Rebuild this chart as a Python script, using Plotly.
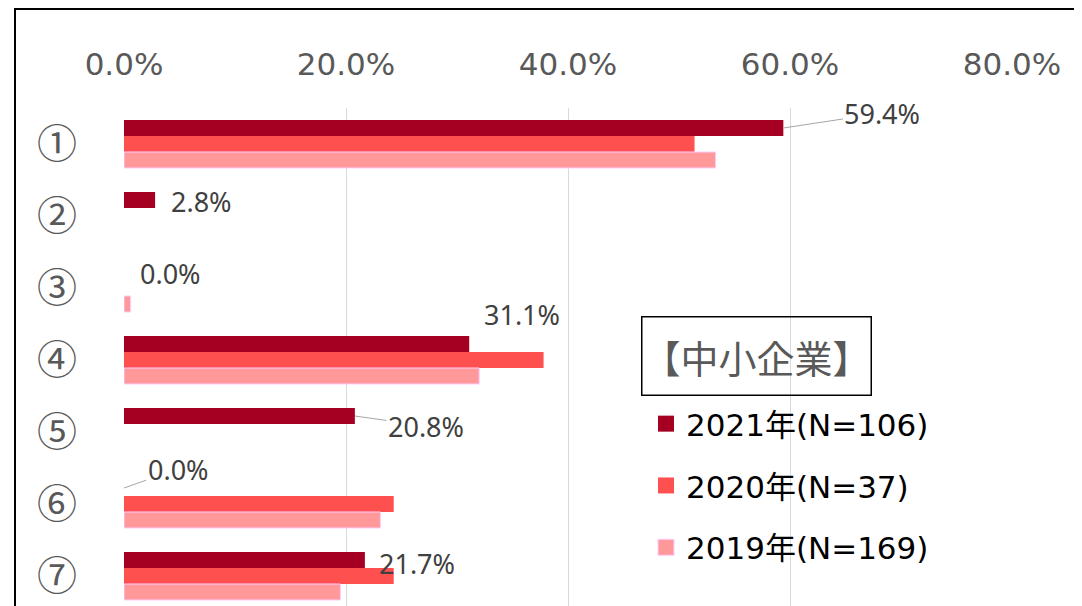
import plotly.graph_objects as go

categories = ["①", "②", "③", "④", "⑤", "⑥", "⑦"]
series_names = ["2021年(N=106)", "2020年(N=37)", "2019年(N=169)"]
values_2021 = [59.4, 2.8, 0.0, 31.1, 20.8, 0.0, 21.7]
values_2020 = [51.4, None, None, 37.8, None, 24.3, 24.3]
values_2019 = [53.3, None, 0.6, 32.0, None, 23.1, 19.5]
tick_values = [0, 20, 40, 60, 80]
tick_labels = ["0.0%", "20.0%", "40.0%", "60.0%", "80.0%"]
legend_title = "【中小企業】"

colors = ["#A50021", "#FF5050", "#FF9999"]
borders = ["#A50021", "#FF5050", "#FFCCFF"]

# label offsets (pixels, text centre relative to bar end) and whether a leader line is drawn
label_style = [
    (99, -15, True),
    (46, 1, False),
    (46, 1, False),
    (53, -30, False),
    (71, 10, True),
    (54, -19, True),
    (52, 3, False),
]

# the page body has an 8px margin; figure is sized/positioned to compensate
OFF = 8
W, H = 1082 - OFF, 606 - OFF
PL, PR, PT, PB = 124 - OFF, 1012 - OFF, 108 - OFF, 606 - OFF
pw, ph = PR - PL, PB - PT
def px(xp):
    return (xp - OFF - PL) / pw
def py(yp):
    return (PB - (yp - OFF)) / ph

ypos = list(range(len(categories)))
fig = go.Figure()
all_vals = [values_2021, values_2020, values_2019]
for i, (name, vals) in enumerate(zip(series_names, all_vals)):
    fig.add_trace(go.Bar(
        y=ypos, x=vals, orientation="h", name=name,
        marker=dict(color=colors[i], line=dict(color=borders[i], width=1 if i == 2 else 0)),
        showlegend=False, hoverinfo="x",
    ))
for i, name in enumerate(series_names):
    fig.add_trace(go.Scatter(
        x=[None], y=[None], mode="markers", name=name, legendgroup=name,
        marker=dict(symbol="square", size=16, color=colors[i],
                    line=dict(color=borders[i], width=1 if i == 2 else 0)),
    ))

group_w = 1 - 0.3333
bar_w = group_w / 3
lab_font = dict(family="Noto Sans", size=27, color="#404040")
for i, v in enumerate(values_2021):
    dx, dy, leader = label_style[i]
    yv = i - bar_w
    if leader:
        fig.add_annotation(x=v, y=yv, text=f"{v:.1f}%", showarrow=True, ax=dx, ay=dy,
                           arrowhead=0, arrowwidth=1, arrowcolor="#A6A6A6", standoff=0,
                           font=lab_font)
    else:
        fig.add_annotation(x=v, y=yv, text=f"{v:.1f}%", showarrow=False,
                           xshift=dx, yshift=-dy, xanchor="center", yanchor="middle",
                           font=lab_font)

fig.add_annotation(xref="paper", yref="paper", x=px(756), y=py(356),
                   xanchor="center", yanchor="middle", text=legend_title,
                   showarrow=False, bordercolor="#000000", borderwidth=1.5,
                   width=226, height=75, borderpad=1,
                   font=dict(family="Noto Sans CJK JP", size=38, color="#595959"))

fig.add_shape(type="line", xref="paper", yref="paper", x0=px(15), x1=px(15), y0=-0.1, y1=py(OFF),
              line=dict(color="#000000", width=2))
fig.add_shape(type="line", xref="paper", yref="paper", x0=px(15), x1=px(1100), y0=py(OFF + 1), y1=py(OFF + 1),
              line=dict(color="#000000", width=2))

fig.update_layout(
    width=W, height=H,
    margin=dict(l=PL, r=W - PR, t=PT, b=0),
    paper_bgcolor="white", plot_bgcolor="white",
    barmode="group", bargap=0.3333, bargroupgap=0,
    legend=dict(x=px(646), y=py(397), xanchor="left", yanchor="top",
                tracegroupgap=18.5, bgcolor="rgba(0,0,0,0)",
                font=dict(family="DejaVu Sans, Noto Sans CJK JP", size=31, color="#000000")),
    xaxis=dict(side="top", range=[0, 80], tickvals=tick_values, ticktext=tick_labels,
               showgrid=True, gridcolor="#D9D9D9", gridwidth=1, zeroline=False,
               showline=False, ticks="", ticklabelstandoff=26,
               tickfont=dict(family="DejaVu Sans", size=31, color="#595959")),
    yaxis=dict(range=[-0.5 + ph / 72, -0.5], tickvals=ypos, ticktext=categories,
               showgrid=False, zeroline=False, showline=False, ticks="",
               ticklabelstandoff=46,
               tickfont=dict(family="Noto Sans CJK JP", size=40, color="#595959")),
)

fig.write_html("out.html")
